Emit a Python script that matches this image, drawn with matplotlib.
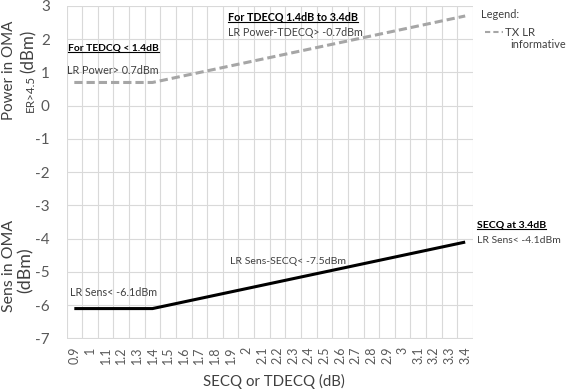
import matplotlib
matplotlib.use("Agg")
import matplotlib.pyplot as plt
from matplotlib.lines import Line2D

plt.rcParams['font.family'] = ['Lato', 'DejaVu Sans']

# ---- data ----
categories = ["0.9", "1", "1.1", "1.2", "1.3", "1.4", "1.5", "1.6", "1.7", "1.8", "1.9", "2",
              "2.1", "2.2", "2.3", "2.4", "2.5", "2.6", "2.7", "2.8", "2.9", "3", "3.1", "3.2",
              "3.3", "3.4"]
tx_power = [0.7, 0.7, 0.7, 0.7, 0.7, 0.7, 0.8, 0.9, 1.0, 1.1, 1.2, 1.3, 1.4, 1.5, 1.6, 1.7,
            1.8, 1.9, 2.0, 2.1, 2.2, 2.3, 2.4, 2.5, 2.6, 2.7]
rx_sens = [-6.1, -6.1, -6.1, -6.1, -6.1, -6.1, -6.0, -5.9, -5.8, -5.7, -5.6, -5.5, -5.4, -5.3,
           -5.2, -5.1, -5.0, -4.9, -4.8, -4.7, -4.6, -4.5, -4.4, -4.3, -4.2, -4.1]
y_ticks = [-7, -6, -5, -4, -3, -2, -1, 0, 1, 2, 3]

W, H = 566, 391
fig = plt.figure(figsize=(W / 100, H / 100), dpi=100)


def fx(x):
    return x / W


def fy(y):
    return 1 - y / H


L, R, T, B = 66.5, 473, 6, 338.5
ax = fig.add_axes([fx(L), fy(B), fx(R) - fx(L), fy(T) - fy(B)])

xs = list(range(len(categories)))
ax.plot(xs, tx_power, color='#a6a6a6', lw=2.2, dashes=(2.7, 1.3), solid_capstyle='butt')
ax.plot(xs, rx_sens, color='black', lw=2.2, solid_capstyle='butt')

ax.set_xlim(-0.5, len(categories) - 0.5)
ax.set_ylim(-7, 3)
ax.set_xticks(xs)
ax.set_xticklabels(categories, rotation=90, fontsize=9, color='#595959')
ax.set_xticks([i - 0.5 for i in range(len(categories) + 1)], minor=True)
ax.set_yticks(y_ticks)
ax.set_yticklabels([str(v) for v in y_ticks], fontsize=11, color='#595959')
ax.tick_params(axis='x', which='both', length=0, pad=6)
ax.tick_params(axis='y', length=0, pad=12)
ax.grid(True, which='minor', axis='x', color='#d9d9d9', lw=0.8)
ax.grid(True, which='major', axis='y', color='#d9d9d9', lw=0.8)
for s in ax.spines.values():
    s.set_visible(False)
ax.set_axisbelow(True)

tc = '#404040'
fitted = []  # (text, target length in px, rotated?)


def T_(x, y, s, target, rot=False, **kw):
    t = fig.text(fx(x), fy(y), s, color=kw.pop('color', tc), **kw)
    fitted.append((t, target, rot))
    return t


# axis labels
T_(274, 381, "SECQ or TDECQ (dB)", 142, ha='center', va='center', fontsize=12.5)
T_(9, 70, "Power in OMA", 100, rot=True, rotation=90, ha='center', va='center', fontsize=12.5)
T_(34, 112, "ER>4.5", 37, rot=True, rotation=90, rotation_mode='anchor', ha='left',
   va='baseline', fontsize=7)
T_(34, 73, "(dBm)", 43, rot=True, rotation=90, rotation_mode='anchor', ha='left',
   va='baseline', fontsize=12)
T_(9, 266, "Sens in OMA", 92, rot=True, rotation=90, ha='center', va='center', fontsize=12.5)
T_(26, 270, "(dBm)", 46, rot=True, rotation=90, ha='center', va='center', fontsize=12.5)

# annotations
fs = 8
underlined = []
underlined.append(T_(68, 48, "For TEDCQ < 1.4dB", 91, ha='left', va='center',
                     fontsize=fs, fontweight='bold', color='black'))
T_(67, 71, "LR Power> 0.7dBm", 92, ha='left', va='center', fontsize=fs)
underlined.append(T_(228, 17, "For TDECQ 1.4dB to 3.4dB", 130, ha='left', va='center',
                     fontsize=fs, fontweight='bold', color='black'))
T_(228, 32, "LR Power-TDECQ> -0.7dBm", 134, ha='left', va='center', fontsize=fs)
T_(70, 293, "LR Sens< -6.1dBm", 87, ha='left', va='center', fontsize=fs)
T_(230, 261, "LR Sens-SECQ< -7.5dBm", 116, ha='left', va='center', fontsize=fs)
underlined.append(T_(477, 225, "SECQ at 3.4dB", 69, ha='left', va='center',
                     fontsize=fs, fontweight='bold', color='black'))
T_(477, 241, "LR Sens< -4.1dBm", 84, ha='left', va='center', fontsize=fs)

# legend
T_(481, 15, "Legend:", 38, ha='left', va='center', fontsize=fs)
fig.add_artist(Line2D([fx(485), fx(503)], [fy(32), fy(32)], transform=fig.transFigure,
                      color='#a6a6a6', lw=1.5, dashes=(2.5, 1.5)))
T_(505, 32, "TX LR", 30, ha='left', va='center', fontsize=fs)
T_(510, 45, "informative", 55, ha='left', va='center', fontsize=fs)

# scale font sizes so the texts take the lengths they have in the reference
fig.canvas.draw()
r = fig.canvas.get_renderer()
for t, target, rot in fitted:
    bb = t.get_window_extent(renderer=r)
    cur = bb.height if rot else bb.width
    if cur > 0:
        t.set_fontsize(t.get_fontsize() * target / cur)

# underline the bold headings
fig.canvas.draw()
for t in underlined:
    bb = t.get_window_extent(renderer=r)
    y = bb.y0 + 1.0
    fig.add_artist(Line2D([bb.x0 / W, bb.x1 / W], [y / H, y / H], transform=fig.transFigure,
                          color='black', lw=0.8))

fig.savefig("out.png", dpi=100)
